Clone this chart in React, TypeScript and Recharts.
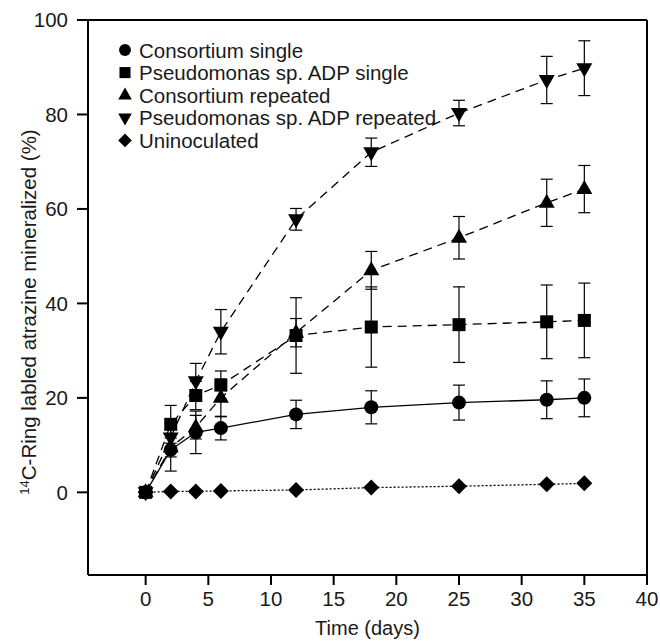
import React from 'react';
import { LineChart, Line, XAxis, YAxis, ErrorBar, ReferenceLine, Label } from 'recharts';

// sampling days
const DAYS = [0, 2, 4, 6, 12, 18, 25, 32, 35];

// % mineralized
const CONS_SINGLE = [0, 9, 12.7, 13.6, 16.5, 18, 19, 19.6, 20];
const CONS_SINGLE_ERR = [0, 4.5, 4.5, 2.5, 3, 3.5, 3.7, 4, 4];
const PSEUDO_SINGLE = [0, 14.4, 20.5, 22.7, 33.2, 35, 35.5, 36.1, 36.4];
const PSEUDO_SINGLE_ERR = [0, 4, 3, 3, 8, 8.5, 8, 7.8, 7.9];
const CONS_REP = [0, 9.5, 13.8, 20, 33.8, 47, 53.9, 61.3, 64.2];
const CONS_REP_ERR = [0, 2, 2.5, 4, 3, 4, 4.5, 5, 5];
const PSEUDO_REP = [0, 11.6, 23.5, 34, 57.8, 72, 80.3, 87.3, 89.8];
const PSEUDO_REP_ERR = [0, 3, 3.8, 4.7, 2.3, 3, 2.7, 5, 5.8];
const UNINOC = [0, 0.2, 0.2, 0.3, 0.5, 1, 1.3, 1.7, 1.9];

const X_TICKS = [0, 5, 10, 15, 20, 25, 30, 35, 40];
const Y_TICKS = [0, 20, 40, 60, 80, 100];

const SERIES = [
  { key: 'cs', err: 'cse', name: 'Consortium single', marker: 'circle', dash: undefined },
  { key: 'ps', err: 'pse', name: 'Pseudomonas sp. ADP single', marker: 'square', dash: '9 6' },
  { key: 'cr', err: 'cre', name: 'Consortium repeated', marker: 'up', dash: '9 6' },
  { key: 'pr', err: 'pre', name: 'Pseudomonas sp. ADP repeated', marker: 'down', dash: '9 6' },
  { key: 'un', err: undefined, name: 'Uninoculated', marker: 'diamond', dash: '2 2' },
];

const rows = DAYS.map((d, i) => ({
  day: d,
  cs: CONS_SINGLE[i], cse: CONS_SINGLE_ERR[i],
  ps: PSEUDO_SINGLE[i], pse: PSEUDO_SINGLE_ERR[i],
  cr: CONS_REP[i], cre: CONS_REP_ERR[i],
  pr: PSEUDO_REP[i], pre: PSEUDO_REP_ERR[i],
  un: UNINOC[i],
}));

const FONT = '"Liberation Sans", Arial, sans-serif';
const INK = '#1a1a1a';

function Marker({ kind, cx, cy, s = 1 }: { kind: string; cx: number; cy: number; s?: number }) {
  if (cx == null || cy == null) return null;
  switch (kind) {
    case 'circle':
      return <circle cx={cx} cy={cy} r={7 * s} fill="#000" />;
    case 'square':
      return <rect x={cx - 6.5 * s} y={cy - 6.5 * s} width={13 * s} height={13 * s} fill="#000" />;
    case 'up':
      return <polygon points={`${cx},${cy - 9 * s} ${cx + 8 * s},${cy + 5 * s} ${cx - 8 * s},${cy + 5 * s}`} fill="#000" />;
    case 'down':
      return <polygon points={`${cx},${cy + 9 * s} ${cx + 8 * s},${cy - 5 * s} ${cx - 8 * s},${cy - 5 * s}`} fill="#000" />;
    default:
      return <polygon points={`${cx},${cy - 8 * s} ${cx + 8 * s},${cy} ${cx},${cy + 8 * s} ${cx - 8 * s},${cy}`} fill="#000" />;
  }
}

const dotFor = (kind: string) => (p: any) => <Marker key={`${kind}-${p.index}`} kind={kind} cx={p.cx} cy={p.cy} />;

function YLabel(props: any) {
  const vb = props.viewBox || { x: 0, y: 0, width: 0, height: 0 };
  const cx = vb.x + 36;
  const cy = 312;
  return (
    <text x={cx} y={cy} transform={`rotate(-90 ${cx} ${cy})`} textAnchor="middle" fontSize={20.5} fontFamily={FONT} fill={INK}>
      <tspan fontSize={13} dy={-7}>14</tspan>
      <tspan dy={7}>C-Ring labled atrazine mineralized (%)</tspan>
    </text>
  );
}

function LegendBox() {
  return (
    <g>
      {SERIES.map((s, i) => (
        <g key={s.key}>
          <Marker kind={s.marker} cx={125} cy={50 + i * 22.6} s={0.85} />
          <text x={139} y={50 + i * 22.6 + 7.5} fontSize={20.5} fontFamily={FONT} fill={INK}>{s.name}</text>
        </g>
      ))}
    </g>
  );
}

export default function App() {
  return (
    <div style={{ position: 'relative', width: 660, height: 641 }}>
      <style>{'body{margin:0}'}</style>
      <LineChart width={660} height={641} data={rows} margin={{ top: 20, right: 13, bottom: 0, left: 0 }}>
        <XAxis
          dataKey="day"
          type="number"
          domain={[-4.6, 40]}
          ticks={X_TICKS}
          allowDataOverflow
          height={66}
          tickSize={10}
          tickMargin={6}
          stroke="#000"
          strokeWidth={2}
          tick={{ fill: INK, fontSize: 20.5, fontFamily: FONT }}
        >
          <Label value="Time (days)" position="insideBottom" offset={6} fill={INK} fontSize={20} fontFamily={FONT} />
        </XAxis>
        <YAxis
          type="number"
          domain={[-17.5, 100]}
          ticks={Y_TICKS}
          allowDataOverflow
          width={88}
          tickSize={11}
          tickMargin={9}
          stroke="#000"
          strokeWidth={2}
          tick={{ fill: INK, fontSize: 20.5, fontFamily: FONT }}
          label={<YLabel />}
        />
        <ReferenceLine y={100} stroke="#000" strokeWidth={2} />
        <ReferenceLine x={40} stroke="#000" strokeWidth={2} />
        {SERIES.map((s) => (
          <Line
            key={s.key}
            dataKey={s.key}
            name={s.name}
            type="linear"
            stroke="#000"
            strokeWidth={1.3}
            strokeDasharray={s.dash}
            dot={dotFor(s.marker)}
            activeDot={false}
            isAnimationActive={false}
          >
            {s.err && <ErrorBar dataKey={s.err} direction="y" width={6} stroke="#000" strokeWidth={1.2} />}
          </Line>
        ))}
        <LegendBox />
      </LineChart>
    </div>
  );
}
